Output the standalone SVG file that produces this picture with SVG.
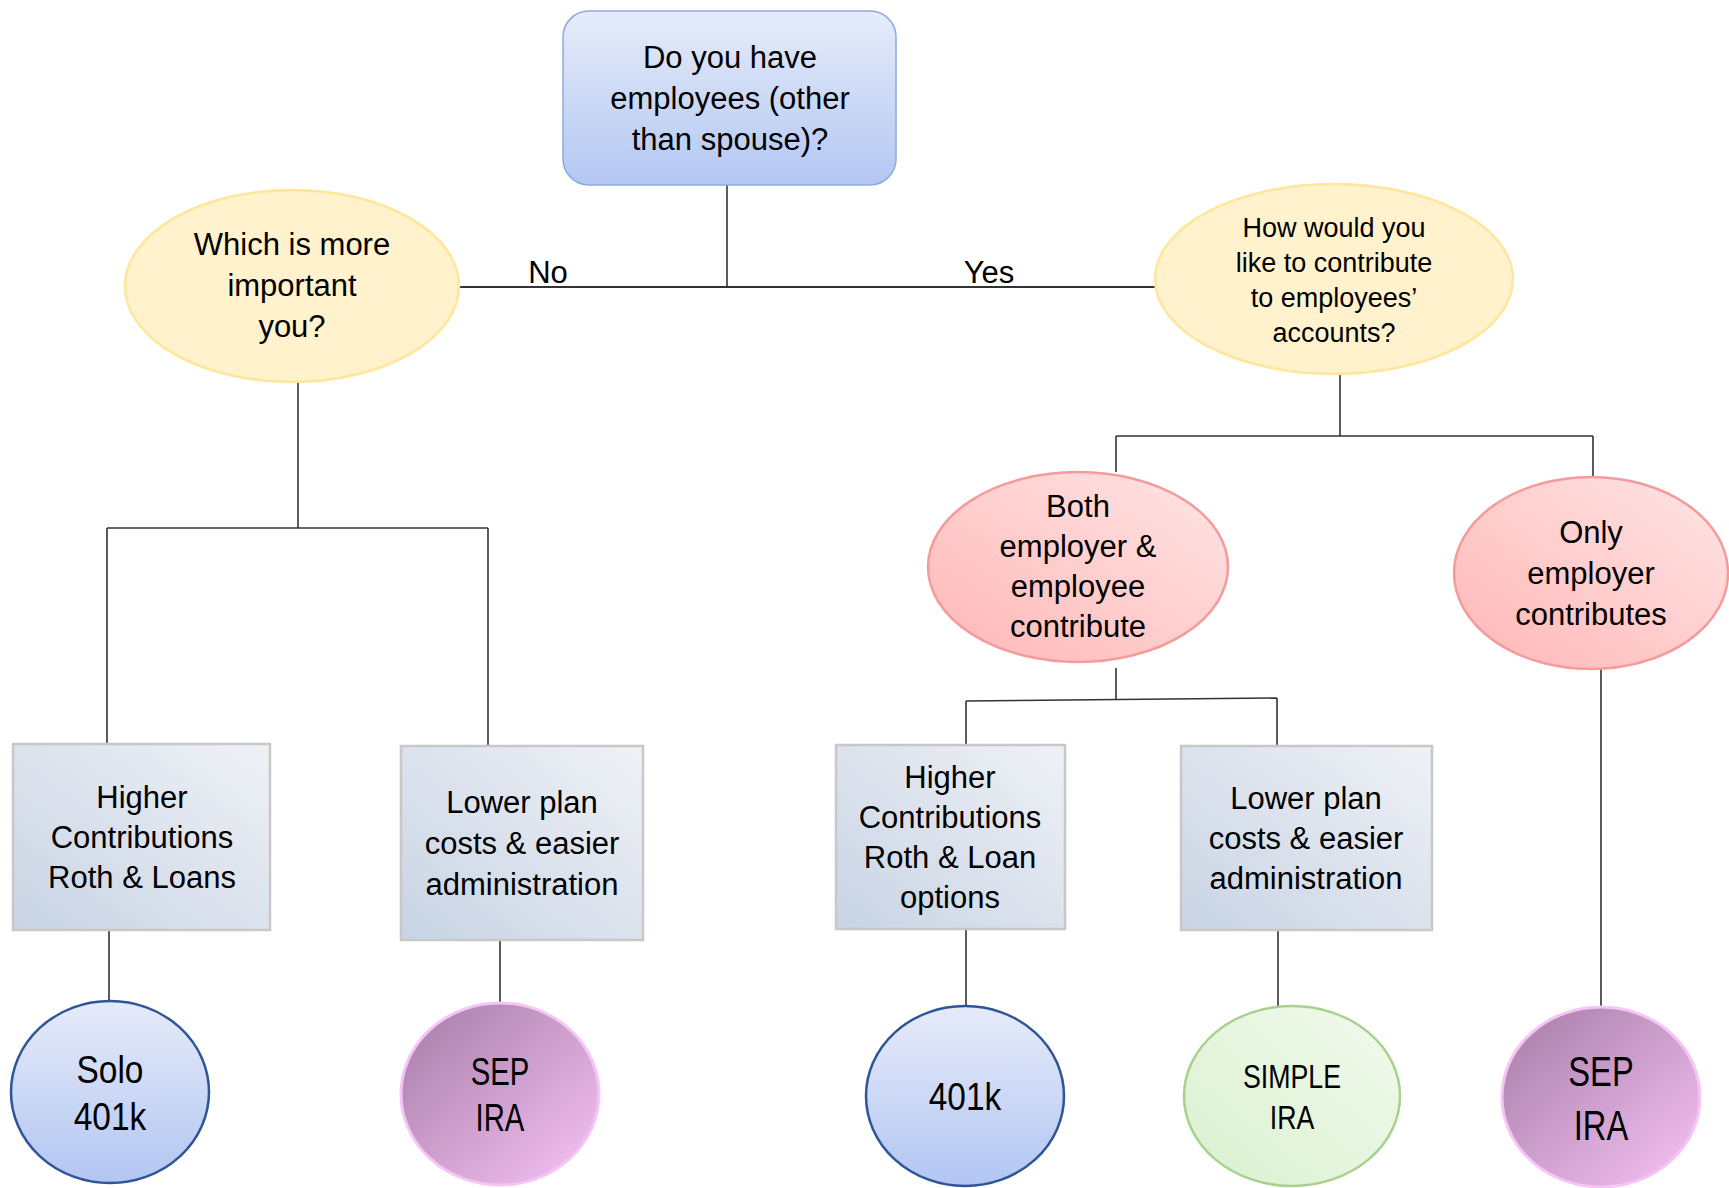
<svg xmlns="http://www.w3.org/2000/svg" width="1729" height="1188" viewBox="0 0 1729 1188">
<defs>
<linearGradient id="gTop" x1="0" y1="0" x2="0" y2="1"><stop offset="0" stop-color="#e6ecf9"/><stop offset="1" stop-color="#b3c7f3"/></linearGradient>
<linearGradient id="gBlue" x1="0" y1="0" x2="0" y2="1"><stop offset="0" stop-color="#e6ebf9"/><stop offset="1" stop-color="#b2c6f2"/></linearGradient>
<linearGradient id="gPink" x1="0" y1="1" x2="1" y2="0"><stop offset="0" stop-color="#ffb6b6"/><stop offset="1" stop-color="#ffe6e6"/></linearGradient>
<linearGradient id="gGray" x1="0" y1="1" x2="1" y2="0"><stop offset="0" stop-color="#c8d4e4"/><stop offset="1" stop-color="#eff1f6"/></linearGradient>
<linearGradient id="gPurple" x1="0" y1="0" x2="1" y2="1"><stop offset="0" stop-color="#a57ca6"/><stop offset="1" stop-color="#f7c3f5"/></linearGradient>
<linearGradient id="gGreen" x1="0" y1="1" x2="1" y2="0"><stop offset="0" stop-color="#d9f0cf"/><stop offset="1" stop-color="#f2faee"/></linearGradient>
</defs>
<style>
text{font-family:"Liberation Sans",Arial,sans-serif;fill:#000;text-anchor:middle}
.t31{font-size:31px}
.t27{font-size:27px}
.conn{stroke:#333;stroke-width:1.6;fill:none}
.box{fill:url(#gGray);stroke:#c8c8c8;stroke-width:2.5}
.yel{fill:#fff2cc;stroke:#ffe699;stroke-width:2.5}
.pink{fill:url(#gPink);stroke:#f59b9b;stroke-width:2.5}
.blue{fill:url(#gBlue);stroke:#2f5597;stroke-width:2.5}
.purple{fill:url(#gPurple);stroke:#f6c4f6;stroke-width:3}
.green{fill:url(#gGreen);stroke:#a9d18e;stroke-width:2.5}
</style>
<rect width="1729" height="1188" fill="#fff"/>
<g id="connectors">
<line class="conn" x1="727" y1="185" x2="727" y2="287"/>
<line class="conn" x1="459" y1="287" x2="1155" y2="287" style="stroke-width:2"/>
<line class="conn" x1="298" y1="382" x2="298" y2="528"/>
<line class="conn" x1="107" y1="528" x2="488" y2="528"/>
<line class="conn" x1="107" y1="528" x2="107" y2="744"/>
<line class="conn" x1="488" y1="528" x2="488" y2="746"/>
<line class="conn" x1="109" y1="930" x2="109" y2="1001"/>
<line class="conn" x1="500" y1="940" x2="500" y2="1003"/>
<line class="conn" x1="1340" y1="374" x2="1340" y2="436"/>
<line class="conn" x1="1116" y1="436" x2="1593" y2="436"/>
<line class="conn" x1="1116" y1="436" x2="1116" y2="472"/>
<line class="conn" x1="1593" y1="436" x2="1593" y2="477"/>
<line class="conn" x1="1116" y1="668" x2="1116" y2="699"/>
<line class="conn" x1="966" y1="701" x2="1277" y2="698"/>
<line class="conn" x1="966" y1="701" x2="966" y2="745"/>
<line class="conn" x1="1277" y1="698" x2="1277" y2="746"/>
<line class="conn" x1="966" y1="929" x2="966" y2="1006"/>
<line class="conn" x1="1278" y1="930" x2="1278" y2="1006"/>
<line class="conn" x1="1601" y1="669" x2="1601" y2="1006"/>
<text class="t31" x="548" y="283">No</text>
<text class="t31" x="989" y="283">Yes</text>
</g>
<g id="n-top">
<rect x="563" y="11" width="333" height="174" rx="26" fill="url(#gTop)" stroke="#8eaadc" stroke-width="1.5"/>
<text class="t31" x="730" y="68">Do you have</text>
<text class="t31" x="730" y="109">employees (other</text>
<text class="t31" x="730" y="150">than spouse)?</text>
</g>
<g id="n-which">
<ellipse class="yel" cx="292" cy="286" rx="167" ry="96"/>
<text class="t31" x="292" y="255">Which is more</text>
<text class="t31" x="292" y="296">important</text>
<text class="t31" x="292" y="337">you?</text>
</g>
<g id="n-how">
<ellipse class="yel" cx="1334" cy="279" rx="179" ry="95"/>
<text class="t27" x="1334" y="237">How would you</text>
<text class="t27" x="1334" y="272">like to contribute</text>
<text class="t27" x="1334" y="307">to employees’</text>
<text class="t27" x="1334" y="342">accounts?</text>
</g>
<g id="n-both">
<ellipse class="pink" cx="1078" cy="567" rx="150" ry="95"/>
<text class="t31" x="1078" y="517">Both</text>
<text class="t31" x="1078" y="557">employer &amp;</text>
<text class="t31" x="1078" y="597">employee</text>
<text class="t31" x="1078" y="637">contribute</text>
</g>
<g id="n-only">
<ellipse class="pink" cx="1591" cy="573" rx="137" ry="96"/>
<text class="t31" x="1591" y="543">Only</text>
<text class="t31" x="1591" y="584">employer</text>
<text class="t31" x="1591" y="625">contributes</text>
</g>
<g id="n-box1">
<rect class="box" x="13" y="744" width="257" height="186"/>
<text class="t31" x="142" y="808">Higher</text>
<text class="t31" x="142" y="848">Contributions</text>
<text class="t31" x="142" y="888">Roth &amp; Loans</text>
</g>
<g id="n-box2">
<rect class="box" x="401" y="746" width="242" height="194"/>
<text class="t31" x="522" y="813">Lower plan</text>
<text class="t31" x="522" y="854">costs &amp; easier</text>
<text class="t31" x="522" y="895">administration</text>
</g>
<g id="n-box3">
<rect class="box" x="836" y="745" width="229" height="184"/>
<text class="t31" x="950" y="788">Higher</text>
<text class="t31" x="950" y="828">Contributions</text>
<text class="t31" x="950" y="868">Roth &amp; Loan</text>
<text class="t31" x="950" y="908">options</text>
</g>
<g id="n-box4">
<rect class="box" x="1181" y="746" width="251" height="184"/>
<text class="t31" x="1306" y="809">Lower plan</text>
<text class="t31" x="1306" y="849">costs &amp; easier</text>
<text class="t31" x="1306" y="889">administration</text>
</g>
<g id="n-solo">
<ellipse class="blue" cx="110" cy="1092" rx="99" ry="91"/>
<text transform="translate(110,0) scale(0.88,1)" x="0" y="1083" style="font-size:38px">Solo</text>
<text transform="translate(110,0) scale(0.88,1)" x="0" y="1130" style="font-size:38px">401k</text>
</g>
<g id="n-sep1">
<ellipse class="purple" cx="500" cy="1094" rx="99" ry="91"/>
<text transform="translate(500,0) scale(0.77,1)" x="0" y="1085" style="font-size:38px">SEP</text>
<text transform="translate(500,0) scale(0.77,1)" x="0" y="1131" style="font-size:38px">IRA</text>
</g>
<g id="n-401k">
<ellipse class="blue" cx="965" cy="1096" rx="99" ry="90"/>
<text transform="translate(965,0) scale(0.88,1)" x="0" y="1110" style="font-size:38px">401k</text>
</g>
<g id="n-simple">
<ellipse class="green" cx="1292" cy="1096" rx="108" ry="90"/>
<text transform="translate(1292,0) scale(0.81,1)" x="0" y="1088" style="font-size:33px">SIMPLE</text>
<text transform="translate(1292,0) scale(0.81,1)" x="0" y="1129" style="font-size:33px">IRA</text>
</g>
<g id="n-sep2">
<ellipse class="purple" cx="1601" cy="1097" rx="99" ry="90"/>
<text transform="translate(1601,0) scale(0.76,1)" x="0" y="1086" style="font-size:43px">SEP</text>
<text transform="translate(1601,0) scale(0.76,1)" x="0" y="1140" style="font-size:43px">IRA</text>
</g>
</svg>
